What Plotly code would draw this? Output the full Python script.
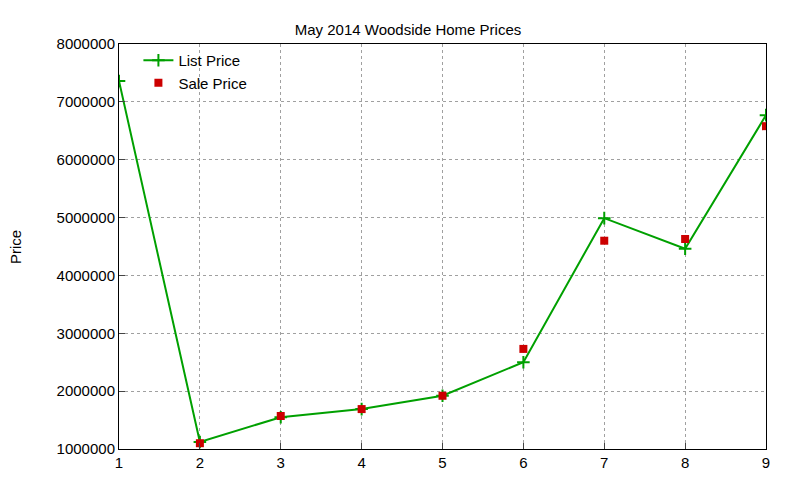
import plotly.graph_objects as go

x_list = [1, 2, 3, 4, 5, 6, 7, 8, 9]
list_price = [7360000, 1120000, 1550000, 1690000, 1920000, 2500000, 4990000, 4460000, 6770000]
x_sale = [2, 3, 4, 5, 6, 7, 8, 9]
sale_price = [1100000, 1570000, 1690000, 1920000, 2730000, 4600000, 4630000, 6580000]

fig = go.Figure()
fig.add_trace(go.Scatter(x=x_list, y=list_price, name="List Price", mode="lines+markers",
                         line=dict(color="#00a000", width=2),
                         marker=dict(symbol="cross-thin", size=9, line=dict(color="#00a000", width=2))))
fig.add_trace(go.Scatter(x=x_sale, y=sale_price, name="Sale Price", mode="markers",
                         marker=dict(symbol="square", size=8, color="#cc0000")))

ax = dict(showline=True, linecolor="black", mirror=True, ticks="inside", ticklen=6,
          showgrid=True, gridcolor="#a0a0a0", griddash="dot", gridwidth=1, zeroline=False,
          tickfont=dict(size=15, color="black"))
fig.update_layout(
    width=800, height=480, plot_bgcolor="white", paper_bgcolor="white",
    margin=dict(l=111, r=42, t=36, b=39),
    font=dict(family="Liberation Sans, Arial", color="black"),
    title=dict(text="May 2014 Woodside Home Prices", x=0.5, xanchor="center", y=0.965, yanchor="top",
               font=dict(size=15)),
    xaxis=dict(range=[1, 9], dtick=1, **ax),
    yaxis=dict(range=[1000000, 8000000], dtick=1000000, tickformat="d", **ax),
    legend=dict(x=0.03, y=1.0, xanchor="left", yanchor="top", bgcolor="rgba(0,0,0,0)",
                font=dict(size=15), tracegroupgap=0),
    annotations=[dict(text="Price", xref="paper", yref="paper", x=-0.16, y=0.5, textangle=-90,
                      showarrow=False, xanchor="center", yanchor="middle", font=dict(size=15))],
)
fig.write_html("out.html")
